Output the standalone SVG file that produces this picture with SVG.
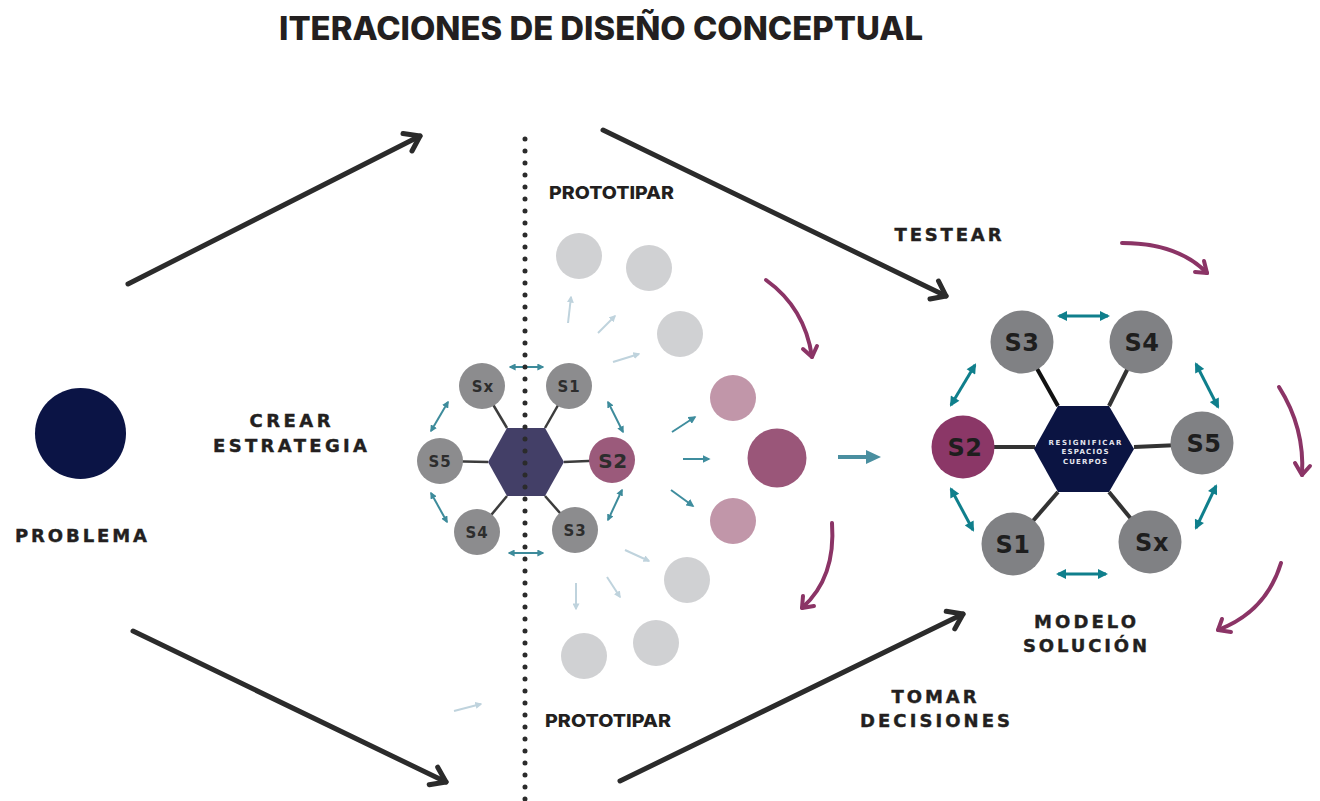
<svg xmlns="http://www.w3.org/2000/svg" width="1320" height="801" viewBox="0 0 1320 801">
<style>
text{font-family:Inter,"Liberation Sans",Arial,sans-serif;font-weight:800;}
.title{font-size:32px;fill:#231f20;}
.lbl{font-family:"DejaVu Sans","Liberation Sans",sans-serif;font-size:18px;fill:#231f20;font-weight:700;stroke:#231f20;stroke-width:0.4px;}
.proto{font-size:18px;fill:#231f20;font-weight:800;}
.sl{font-family:"DejaVu Sans","Liberation Sans",sans-serif;font-weight:700;font-size:15px;fill:#2d2d2d;text-anchor:middle;letter-spacing:1px;}
.sr{font-family:"DejaVu Sans","Liberation Sans",sans-serif;font-weight:700;font-size:24px;fill:#1e1e1e;text-anchor:middle;letter-spacing:0.5px;}
.gl{fill:#8c8c8e;}
.gr{fill:#808184;}
.ghost{fill:#d0d1d3;}
.pinkl{fill:#c196a9;}
.blk{fill:none;stroke:#2b2b2b;stroke-width:5;stroke-linecap:round;stroke-linejoin:round;}
.purp{fill:none;stroke:#8b3466;stroke-width:4;stroke-linecap:round;stroke-linejoin:round;}
.tl{stroke:#3d8b9b;stroke-width:2;fill:none;}
.tr{stroke:#0f7f8c;stroke-width:3;fill:none;}
.lb{stroke:#bfd3dd;stroke-width:2;fill:none;}
.spl{stroke:#3c3c3c;stroke-width:2.5;}
.spr{stroke:#333;stroke-width:4;}
.hx{font-family:"DejaVu Sans","Liberation Sans",sans-serif;font-size:7px;fill:#e3e5ee;text-anchor:middle;font-weight:700;}
</style>
<defs>
<marker id="mtl" viewBox="0 0 10 10" refX="8" refY="5" markerWidth="7" markerHeight="7" markerUnits="userSpaceOnUse" orient="auto-start-reverse"><path d="M0,0 L10,5 L0,10 z" fill="#3d8b9b"/></marker>
<marker id="mtr" viewBox="0 0 10 10" refX="8" refY="5" markerWidth="11" markerHeight="10" markerUnits="userSpaceOnUse" orient="auto-start-reverse"><path d="M0,0 L10,5 L0,10 z" fill="#0f7f8c"/></marker>
<marker id="mlb" viewBox="0 0 10 10" refX="8" refY="5" markerWidth="7" markerHeight="7" markerUnits="userSpaceOnUse" orient="auto"><path d="M0,0 L10,5 L0,10 z" fill="#bfd3dd"/></marker>
<marker id="mtm" viewBox="0 0 10 10" refX="8" refY="5" markerWidth="8" markerHeight="8" markerUnits="userSpaceOnUse" orient="auto"><path d="M0,0 L10,5 L0,10 z" fill="#3f8d9e"/></marker>
</defs>
<rect width="1320" height="801" fill="#ffffff"/>

<text class="title" x="279" y="40" textLength="644" lengthAdjust="spacingAndGlyphs">ITERACIONES DE DISEÑO CONCEPTUAL</text>

<g id="connectors">
  <line class="blk" x1="128" y1="284" x2="420" y2="136"/>
  <polyline class="blk" points="403,133.6 420,136 412,151"/>
  <line class="blk" x1="603" y1="130" x2="946" y2="296"/>
  <polyline class="blk" points="938.5,281 946,296 930,299"/>
  <line class="blk" x1="133" y1="631" x2="446" y2="782"/>
  <polyline class="blk" points="437.7,767.2 446,782 429.2,784.7"/>
  <line class="blk" x1="620" y1="781" x2="963" y2="614"/>
  <polyline class="blk" points="946.2,611.3 963,614 954.8,628.9"/>
  <path class="purp" d="M766,280 Q805,308 812,357"/>
  <polyline class="purp" points="803,349 812,357 817,346"/>
  <path class="purp" d="M832,523 Q836,578 802,608"/>
  <polyline class="purp" points="803,596 802,608 814,606"/>
  <path class="purp" d="M1122,243 Q1178,243 1207,273"/>
  <polyline class="purp" points="1195,272 1207,273 1204,261"/>
  <path class="purp" d="M1279,387 Q1305,428 1302,475"/>
  <polyline class="purp" points="1295,463 1302,475 1310,466"/>
  <path class="purp" d="M1281,563 Q1266,612 1218,630"/>
  <polyline class="purp" points="1222,619 1218,630 1231,632"/>
  <line class="lb" x1="568" y1="323" x2="571" y2="297" marker-end="url(#mlb)"/>
  <line class="lb" x1="598" y1="333" x2="615" y2="316" marker-end="url(#mlb)"/>
  <line class="lb" x1="613" y1="362" x2="639" y2="354" marker-end="url(#mlb)"/>
  <line class="lb" x1="625" y1="550" x2="649" y2="561" marker-end="url(#mlb)"/>
  <line class="lb" x1="607" y1="577" x2="620" y2="597" marker-end="url(#mlb)"/>
  <line class="lb" x1="576" y1="583" x2="576" y2="609" marker-end="url(#mlb)"/>
  <line class="lb" x1="454" y1="711" x2="481" y2="704" marker-end="url(#mlb)"/>
  <line stroke="#3f8d9e" stroke-width="2" x1="672" y1="432" x2="695" y2="417" marker-end="url(#mtm)"/>
  <line stroke="#3f8d9e" stroke-width="2" x1="683" y1="459" x2="709" y2="459" marker-end="url(#mtm)"/>
  <line stroke="#3f8d9e" stroke-width="2" x1="671" y1="490" x2="693" y2="506" marker-end="url(#mtm)"/>
  <line stroke="#4a8fa0" stroke-width="4" x1="838" y1="457" x2="868" y2="457"/>
  <polygon points="866,450 881,457 866,464" fill="#4a8fa0"/>
  <line class="tl" x1="510" y1="367" x2="543" y2="367" marker-start="url(#mtl)" marker-end="url(#mtl)"/>
  <line class="tl" x1="509" y1="553" x2="543" y2="553" marker-start="url(#mtl)" marker-end="url(#mtl)"/>
  <line class="tl" x1="448" y1="402" x2="431" y2="431" marker-start="url(#mtl)" marker-end="url(#mtl)"/>
  <line class="tl" x1="431" y1="493" x2="447" y2="522" marker-start="url(#mtl)" marker-end="url(#mtl)"/>
  <line class="tl" x1="608" y1="402" x2="623" y2="432" marker-start="url(#mtl)" marker-end="url(#mtl)"/>
  <line class="tl" x1="622" y1="490" x2="608" y2="520" marker-start="url(#mtl)" marker-end="url(#mtl)"/>
  <line class="tr" x1="1059" y1="316" x2="1108" y2="316" marker-start="url(#mtr)" marker-end="url(#mtr)"/>
  <line class="tr" x1="1058" y1="574" x2="1106" y2="574" marker-start="url(#mtr)" marker-end="url(#mtr)"/>
  <line class="tr" x1="975" y1="365" x2="951" y2="405" marker-start="url(#mtr)" marker-end="url(#mtr)"/>
  <line class="tr" x1="951" y1="489" x2="973" y2="530" marker-start="url(#mtr)" marker-end="url(#mtr)"/>
  <line class="tr" x1="1196" y1="364" x2="1218" y2="407" marker-start="url(#mtr)" marker-end="url(#mtr)"/>
  <line class="tr" x1="1216" y1="486" x2="1196" y2="528" marker-start="url(#mtr)" marker-end="url(#mtr)"/>
  <line class="spl" x1="507" y1="428" x2="482" y2="386"/>
  <line class="spl" x1="545" y1="428" x2="569" y2="386"/>
  <line class="spl" x1="488" y1="462" x2="440" y2="461"/>
  <line class="spl" x1="564" y1="462" x2="612" y2="460"/>
  <line class="spl" x1="507" y1="496" x2="477" y2="532"/>
  <line class="spl" x1="545" y1="496" x2="575" y2="530"/>
  <line class="spr" x1="1058" y1="406" x2="1022" y2="342" style="stroke:#111"/>
  <line class="spr" x1="1109" y1="406" x2="1141" y2="342"/>
  <line class="spr" x1="1035" y1="447" x2="963" y2="447"/>
  <line class="spr" x1="1134" y1="447" x2="1202" y2="444"/>
  <line class="spr" x1="1058" y1="492" x2="1013" y2="544"/>
  <line class="spr" x1="1109" y1="492" x2="1150" y2="542"/>
</g>

<g id="problema">
  <circle cx="80.5" cy="433.5" r="45.5" fill="#0b1445"/>
  <text class="lbl" x="81" y="542" text-anchor="middle" textLength="132" lengthAdjust="spacing">PROBLEMA</text>
</g>

<g id="label-crear">
  <text class="lbl" x="290" y="427" text-anchor="middle" textLength="81" lengthAdjust="spacing">CREAR</text>
  <text class="lbl" x="290" y="452" text-anchor="middle" textLength="154" lengthAdjust="spacing">ESTRATEGIA</text>
</g>
<g id="label-testear">
  <text class="lbl" x="948" y="241" text-anchor="middle" textLength="107" lengthAdjust="spacing">TESTEAR</text>
</g>
<g id="label-tomar">
  <text class="lbl" x="934" y="703" text-anchor="middle" textLength="85" lengthAdjust="spacing">TOMAR</text>
  <text class="lbl" x="935" y="727" text-anchor="middle" textLength="150" lengthAdjust="spacing">DECISIONES</text>
</g>
<g id="label-modelo">
  <text class="lbl" x="1085" y="628" text-anchor="middle" textLength="102" lengthAdjust="spacing">MODELO</text>
  <text class="lbl" x="1085" y="652" text-anchor="middle" textLength="124" lengthAdjust="spacing">SOLUCIÓN</text>
</g>
<g id="label-prototipar-top">
  <text class="proto" x="549" y="199" textLength="125" lengthAdjust="spacingAndGlyphs">PROTOTIPAR</text>
</g>
<g id="label-prototipar-bottom">
  <text class="proto" x="545" y="727" textLength="126" lengthAdjust="spacingAndGlyphs">PROTOTIPAR</text>
</g>

<g id="estrategia-cluster">
  <polygon points="488,462 507,428 545,428 564,462 545,496 507,496" fill="#433f67"/>
  <g id="l-sx"><circle class="gl" cx="482" cy="386" r="23"/><text class="sl" x="483" y="391.5">Sx</text></g>
  <g id="l-s1"><circle class="gl" cx="569" cy="386" r="23"/><text class="sl" x="569" y="391.5">S1</text></g>
  <g id="l-s5"><circle class="gl" cx="440" cy="461" r="23"/><text class="sl" x="440" y="466.5">S5</text></g>
  <g id="l-s2"><circle cx="612" cy="460" r="23" fill="#9b5a7b"/><text class="sl" x="613" y="467.5" style="font-size:20px;letter-spacing:0.5px">S2</text></g>
  <g id="l-s4"><circle class="gl" cx="477" cy="532" r="23"/><text class="sl" x="477" y="537.5">S4</text></g>
  <g id="l-s3"><circle class="gl" cx="575" cy="530" r="23"/><text class="sl" x="575" y="535.5">S3</text></g>
</g>

<g id="divider">
  <line x1="525" y1="139" x2="525" y2="801" stroke="#2b2b2b" stroke-width="5" stroke-linecap="round" stroke-dasharray="0 12"/>
</g>

<g id="prototipos">
  <circle class="ghost" cx="579" cy="256" r="23"/>
  <circle class="ghost" cx="649" cy="268" r="23"/>
  <circle class="ghost" cx="680" cy="334" r="23"/>
  <circle class="ghost" cx="687" cy="580" r="23"/>
  <circle class="ghost" cx="656" cy="643" r="23"/>
  <circle class="ghost" cx="584" cy="656" r="23"/>
  <circle class="pinkl" cx="733" cy="398" r="23"/>
  <circle class="pinkl" cx="733" cy="521" r="23"/>
  <circle cx="777" cy="458" r="29.5" fill="#9a5679"/>
</g>

<g id="modelo-cluster">
  <polygon points="1034,449 1058,406 1109,406 1134,449 1109,492 1058,492" fill="#0b1442"/>
  <text class="hx" x="1085" y="444.5" textLength="73" lengthAdjust="spacing">RESIGNIFICAR</text>
  <text class="hx" x="1085" y="454" textLength="47" lengthAdjust="spacing">ESPACIOS</text>
  <text class="hx" x="1085" y="463.5" textLength="44" lengthAdjust="spacing">CUERPOS</text>
  <g id="r-s3"><circle class="gr" cx="1022" cy="342" r="31.5"/><text class="sr" x="1022" y="350.5">S3</text></g>
  <g id="r-s4"><circle class="gr" cx="1141" cy="342" r="31.5"/><text class="sr" x="1142" y="350.5">S4</text></g>
  <g id="r-s2"><circle cx="963" cy="447" r="31.5" fill="#8b3767"/><text class="sr" x="965" y="455.5">S2</text></g>
  <g id="r-s5"><circle class="gr" cx="1202" cy="443" r="31.5"/><text class="sr" x="1204" y="451.5">S5</text></g>
  <g id="r-s1"><circle class="gr" cx="1013" cy="544" r="31.5"/><text class="sr" x="1013" y="552.5">S1</text></g>
  <g id="r-sx"><circle class="gr" cx="1150" cy="542" r="31.5"/><text class="sr" x="1152" y="550.5">Sx</text></g>
</g>
</svg>
